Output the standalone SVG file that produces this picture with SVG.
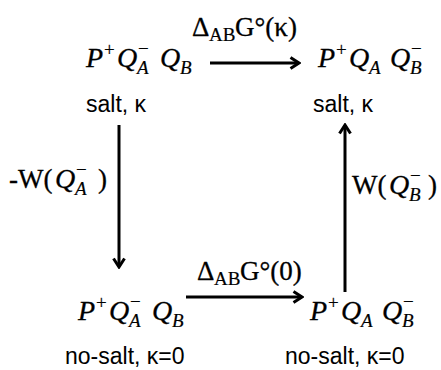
<svg xmlns="http://www.w3.org/2000/svg" width="441" height="370" viewBox="0 0 441 370">
<defs>
<style>
.m{font-family:"Liberation Serif",serif;font-style:italic;font-size:28px;fill:#000;stroke:#000;stroke-width:0.3}
.r{font-family:"Liberation Serif",serif;font-size:27px;fill:#000;stroke:#000;stroke-width:0.3}
.s{font-family:"Liberation Serif",serif;font-size:19px;fill:#000;stroke:#000;stroke-width:0.2}
.si{font-family:"Liberation Serif",serif;font-style:italic;font-size:19px;fill:#000;stroke:#000;stroke-width:0.2}
.lab{font-family:"Liberation Sans",Arial,sans-serif;font-size:23px;fill:#000}
.c{stroke:#000;stroke-width:3;fill:none}
</style>
<marker id="ah" viewBox="0 0 12 14" refX="10" refY="7" markerWidth="12" markerHeight="14" orient="auto" markerUnits="userSpaceOnUse">
<path d="M1.5,1.5 L10,7 L1.5,12.5" fill="none" stroke="#000" stroke-width="3"/>
</marker>
</defs>
<rect width="441" height="370" fill="#fff"/>
<g id="connectors">
<line class="c" x1="210" y1="63" x2="299" y2="63" marker-end="url(#ah)"/>
<line class="c" x1="119" y1="125" x2="119" y2="267" marker-end="url(#ah)"/>
<line class="c" x1="345" y1="292" x2="345" y2="125" marker-end="url(#ah)"/>
<line class="c" x1="186" y1="297" x2="302" y2="297" marker-end="url(#ah)"/>
<g id="label-top">
<text class="r" x="192" y="36">Δ</text><text class="s" x="209" y="41">AB</text><text class="r" x="235" y="36">G°(κ)</text>
</g>
<g id="label-bottom">
<text class="r" x="197" y="280">Δ</text><text class="s" x="214" y="285">AB</text><text class="r" x="240" y="280">G°(0)</text>
</g>
<g id="label-left">
<text class="r" x="9" y="188">-W(</text><text class="m" x="55" y="188">Q</text><text class="si" x="75" y="195">A</text><text class="s" x="76" y="176">−</text><text class="r" x="98" y="188">)</text>
</g>
<g id="label-right">
<text class="r" x="352" y="194">W(</text><text class="m" x="389" y="194">Q</text><text class="si" x="409" y="201">B</text><text class="s" x="410" y="182">−</text><text class="r" x="428" y="194">)</text>
</g>
</g>
<g id="node-tl">
<text class="m" x="86" y="67">P</text><text class="s" x="104" y="56">+</text><text class="m" x="117" y="67">Q</text><text class="si" x="137" y="74">A</text><text class="s" x="138" y="55">−</text><text class="m" x="160" y="67">Q</text><text class="si" x="180" y="74">B</text>
<text class="lab" x="86" y="112">salt, κ</text>
</g>
<g id="node-tr">
<text class="m" x="318" y="67">P</text><text class="s" x="336" y="56">+</text><text class="m" x="349" y="67">Q</text><text class="si" x="369" y="74">A</text><text class="m" x="390" y="67">Q</text><text class="si" x="410" y="74">B</text><text class="s" x="411" y="55">−</text>
<text class="lab" x="313" y="112">salt, κ</text>
</g>
<g id="node-bl">
<text class="m" x="78" y="320">P</text><text class="s" x="96" y="309">+</text><text class="m" x="109" y="320">Q</text><text class="si" x="129" y="327">A</text><text class="s" x="130" y="308">−</text><text class="m" x="152" y="320">Q</text><text class="si" x="172" y="327">B</text>
<text class="lab" x="65" y="364">no-salt, κ=0</text>
</g>
<g id="node-br">
<text class="m" x="310" y="320">P</text><text class="s" x="328" y="309">+</text><text class="m" x="341" y="320">Q</text><text class="si" x="361" y="327">A</text><text class="m" x="382" y="320">Q</text><text class="si" x="402" y="327">B</text><text class="s" x="403" y="308">−</text>
<text class="lab" x="285" y="364">no-salt, κ=0</text>
</g>
</svg>
